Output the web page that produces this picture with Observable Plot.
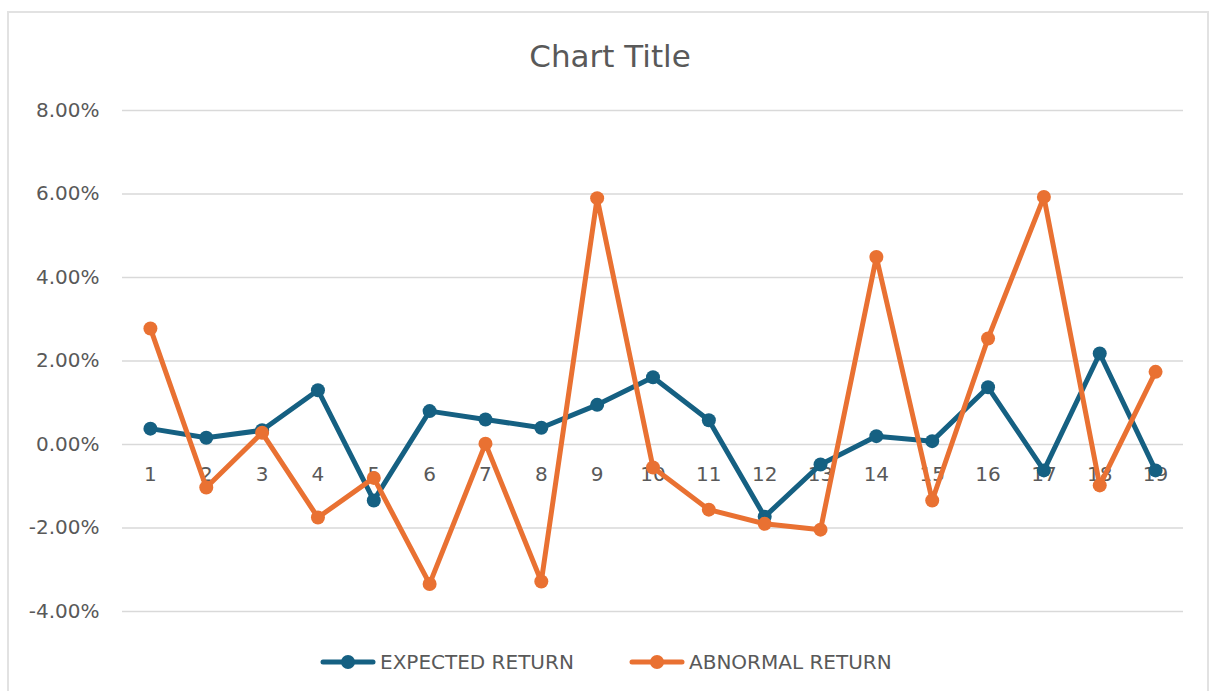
<!DOCTYPE html>
<html>
<head>
<meta charset="utf-8">
<script src="https://cdn.jsdelivr.net/npm/d3@7"></script>
<script src="https://cdn.jsdelivr.net/npm/@observablehq/plot@0.6"></script>
<style>
  html, body { margin: 0; padding: 0; background: #fff; width: 1215px; height: 691px; overflow: hidden; }
  body { position: relative; font-family: "DejaVu Sans", sans-serif; color: #595959; }
  #frame { position: absolute; left: 7px; top: 11px; width: 1202px; height: 720px; border: 2px solid #e2e2e2; box-sizing: border-box; }
  #title { position: absolute; left: 0; top: 41px; width: 1220px; text-align: center; font-size: 31px; line-height: 31px; }
  #chart { position: absolute; left: 0; top: 90px; }
  .leg { position: absolute; top: 651px; height: 22px; display: flex; align-items: center; font-size: 20px; line-height: 22px; white-space: nowrap; }
  .leg svg { margin-right: 4px; }
</style>
</head>
<body>
<div id="frame"></div>
<div id="title">Chart Title</div>
<div id="chart"></div>
<div id="legend"></div>
<script>
// Data (percent)
const categories = [1, 2, 3, 4, 5, 6, 7, 8, 9, 10, 11, 12, 13, 14, 15, 16, 17, 18, 19];
const expectedReturn = [0.38, 0.16, 0.34, 1.30, -1.34, 0.80, 0.60, 0.40, 0.95, 1.61, 0.58, -1.73, -0.48, 0.20, 0.08, 1.37, -0.62, 2.18, -0.62];
const abnormalReturn = [2.78, -1.03, 0.28, -1.75, -0.80, -3.34, 0.02, -3.28, 5.90, -0.55, -1.56, -1.90, -2.04, 4.49, -1.34, 2.54, 5.93, -0.98, 1.74];
const seriesNames = ["EXPECTED RETURN", "ABNORMAL RETURN"];
const seriesColors = ["#156082", "#E97132"];
const yTicks = [-4, -2, 0, 2, 4, 6, 8];

const seriesValues = [expectedReturn, abnormalReturn];
const rows = seriesNames.map((name, i) =>
  categories.map((c, j) => ({ series: name, cat: c, value: seriesValues[i][j] }))
);

const seriesMarks = rows.flatMap((r) => [
  Plot.line(r, { x: "cat", y: "value", stroke: "series", strokeWidth: 5, strokeLinejoin: "round", strokeLinecap: "round" }),
  Plot.dot(r, { x: "cat", y: "value", fill: "series", r: 7, stroke: "series", strokeWidth: 0 })
]);

const chart = Plot.plot({
  width: 1215,
  height: 545,
  marginLeft: 122,
  marginRight: 32,
  marginTop: 20,
  marginBottom: 24,
  style: { fontFamily: "DejaVu Sans, sans-serif", color: "#595959", background: "transparent", overflow: "visible" },
  x: { type: "point", domain: categories, padding: 0.5, round: false, axis: null },
  y: { domain: [-4, 8], axis: null },
  color: { domain: seriesNames, range: seriesColors },
  marks: [
    Plot.gridY(yTicks, { stroke: "#d9d9d9", strokeOpacity: 1, strokeWidth: 1.5 }),
    Plot.axisY(yTicks, { tickSize: 0, tickPadding: 23, tickFormat: (d) => d.toFixed(2) + "%", fontSize: 20, fill: "#595959", label: null }),
    Plot.text(categories, { x: (d) => d, y: () => 0, dy: 30, text: (d) => String(d), fontSize: 20, fill: "#595959" }),
    ...seriesMarks
  ]
});
document.getElementById("chart").appendChild(chart);

// Legend
const legendLeft = [320, 629];
const legend = document.getElementById("legend");
seriesNames.forEach((name, i) => {
  const item = document.createElement("div");
  item.className = "leg";
  item.style.left = legendLeft[i] + "px";
  const c = seriesColors[i];
  item.innerHTML = `<svg width="56" height="22"><line x1="3" y1="11" x2="53" y2="11" stroke="${c}" stroke-width="5" stroke-linecap="round"/><circle cx="28" cy="11" r="7" fill="${c}"/></svg><span>${name}</span>`;
  legend.appendChild(item);
});
</script>
</body>
</html>
